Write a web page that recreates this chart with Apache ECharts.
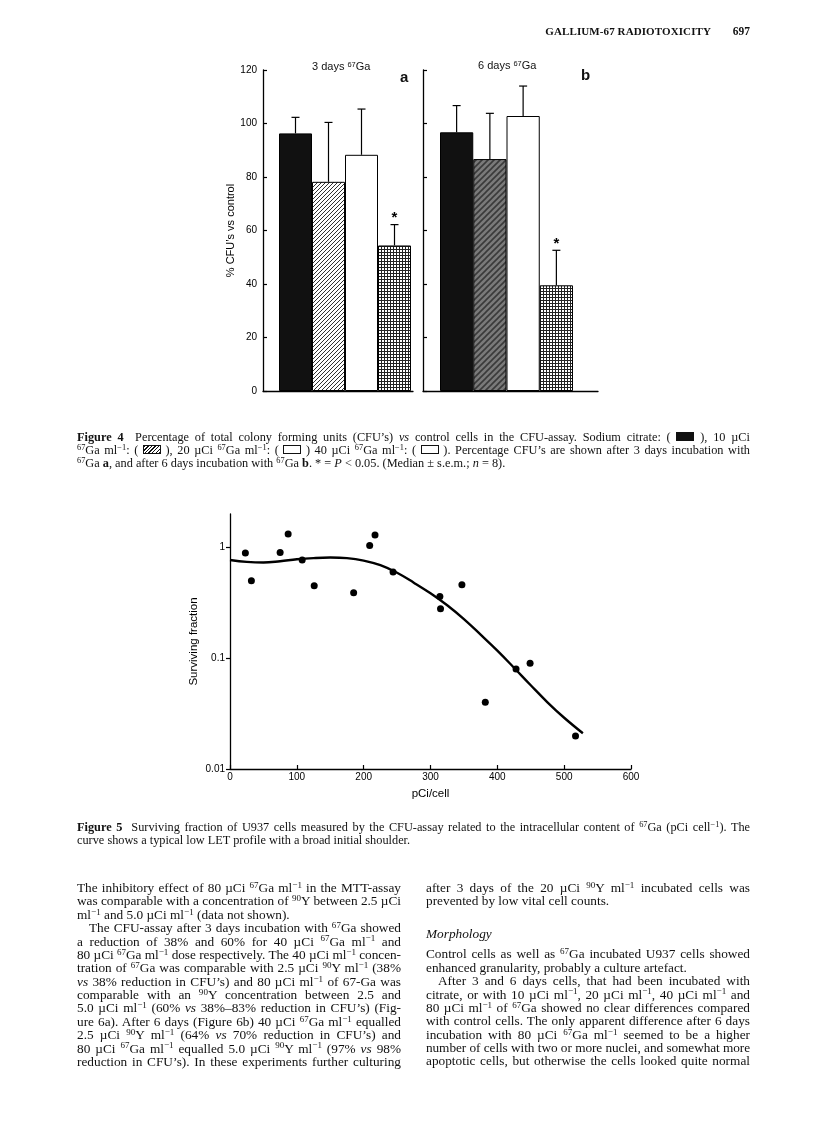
<!DOCTYPE html>
<html>
<head>
<meta charset="utf-8">
<script src="https://cdn.jsdelivr.net/npm/echarts@6/dist/echarts.min.js"></script>
<style>
html, body { margin: 0; padding: 0; background: #fff; }
#page { position: relative; width: 816px; height: 1137px; overflow: hidden; color: #111;
  font-family: "Liberation Serif", "DejaVu Serif", serif; }
#chart { position: absolute; left: 0; top: 0; width: 816px; height: 1137px; }
.t { position: absolute; white-space: nowrap; }
.sans { font-family: "Liberation Sans", Arial, sans-serif; }
.col { position: absolute; font-size: 13.3px; line-height: 13.38px; }
.col div, .cap div { white-space: nowrap; text-align: justify; text-align-last: justify; }
.col div.end, .cap div.end { text-align-last: left; }
.col div.ind { padding-left: 12px; }
.cap { position: absolute; left: 77px; width: 673px; font-size: 12.3px; line-height: 13px; }
.s { font-size: 0.68em; position: relative; top: -0.45em; line-height: 0; }
.sw { display: inline-block; width: 16px; height: 7px; border: 1px solid #111; vertical-align: 0px; }
</style>
</head>
<body>
<div id="page">
  <div id="chart"></div>

  <div class="t" style="right:105px;top:25px;font-size:11px;font-weight:bold;letter-spacing:0.1px;">GALLIUM-67 RADIOTOXICITY</div>
  <div class="t" style="right:66px;top:25px;font-size:11.5px;font-weight:bold;">697</div>

  <div class="t sans" style="left:312px;top:60px;font-size:11px;">3 days <span class="s">67</span>Ga</div>
  <div class="t sans" style="left:400px;top:68px;font-size:15px;font-weight:bold;">a</div>
  <div class="t sans" style="left:478px;top:59px;font-size:11px;">6 days <span class="s">67</span>Ga</div>
  <div class="t sans" style="left:581px;top:66px;font-size:15px;font-weight:bold;">b</div>

  <div class="cap" style="top:431px;">
    <div><b>Figure 4</b>&nbsp; Percentage of total colony forming units (CFU’s) <i>vs</i> control cells in the CFU-assay. Sodium citrate: ( <span class="sw" style="background:#111"></span> ), 10 µCi</div>
    <div><span class="s">67</span>Ga ml<span class="s">−1</span>: ( <span class="sw" style="background:repeating-linear-gradient(-45deg,#111 0 1px,#fff 1px 2.5px)"></span> ), 20 µCi <span class="s">67</span>Ga ml<span class="s">−1</span>: ( <span class="sw"></span> ) 40 µCi <span class="s">67</span>Ga ml<span class="s">−1</span>: ( <span class="sw"></span> ). Percentage CFU’s are shown after 3 days incubation with</div>
    <div class="end"><span class="s">67</span>Ga <b>a</b>, and after 6 days incubation with <span class="s">67</span>Ga <b>b</b>. * = <i>P</i> &lt; 0.05. (Median ± s.e.m.; <i>n</i> = 8).</div>
  </div>

  <div class="cap" style="top:821px;">
    <div><b>Figure 5</b>&nbsp; Surviving fraction of U937 cells measured by the CFU-assay related to the intracellular content of <span class="s">67</span>Ga (pCi cell<span class="s">−1</span>). The</div>
    <div class="end">curve shows a typical low LET profile with a broad initial shoulder.</div>
  </div>

  <div class="col" style="left:77px;top:881px;width:324px;">
    <div>The inhibitory effect of 80 µCi <span class="s">67</span>Ga ml<span class="s">−1</span> in the MTT-assay</div>
    <div>was comparable with a concentration of <span class="s">90</span>Y between 2.5 µCi</div>
    <div class="end">ml<span class="s">−1</span> and 5.0 µCi ml<span class="s">−1</span> (data not shown).</div>
    <div class="ind">The CFU-assay after 3 days incubation with <span class="s">67</span>Ga showed</div>
    <div>a reduction of 38% and 60% for 40 µCi <span class="s">67</span>Ga ml<span class="s">−1</span> and</div>
    <div>80 µCi <span class="s">67</span>Ga ml<span class="s">−1</span> dose respectively. The 40 µCi ml<span class="s">−1</span> concen-</div>
    <div>tration of <span class="s">67</span>Ga was comparable with 2.5 µCi <span class="s">90</span>Y ml<span class="s">−1</span> (38%</div>
    <div><i>vs</i> 38% reduction in CFU’s) and 80 µCi ml<span class="s">−1</span> of 67-Ga was</div>
    <div>comparable with an <span class="s">90</span>Y concentration between 2.5 and</div>
    <div>5.0 µCi ml<span class="s">−1</span> (60% <i>vs</i> 38%–83% reduction in CFU’s) (Fig-</div>
    <div>ure 6a). After 6 days (Figure 6b) 40 µCi <span class="s">67</span>Ga ml<span class="s">−1</span> equalled</div>
    <div>2.5 µCi <span class="s">90</span>Y ml<span class="s">−1</span> (64% <i>vs</i> 70% reduction in CFU’s) and</div>
    <div>80 µCi <span class="s">67</span>Ga ml<span class="s">−1</span> equalled 5.0 µCi <span class="s">90</span>Y ml<span class="s">−1</span> (97% <i>vs</i> 98%</div>
    <div>reduction in CFU’s). In these experiments further culturing</div>
  </div>

  <div class="col" style="left:426px;top:881px;width:324px;">
    <div>after 3 days of the 20 µCi <span class="s">90</span>Y ml<span class="s">−1</span> incubated cells was</div>
    <div class="end">prevented by low vital cell counts.</div>
    <div class="end" style="margin-top:19.5px;font-style:italic;">Morphology</div>
    <div style="margin-top:6.8px;">Control cells as well as <span class="s">67</span>Ga incubated U937 cells showed</div>
    <div class="end">enhanced granularity, probably a culture artefact.</div>
    <div class="ind">After 3 and 6 days cells, that had been incubated with</div>
    <div>citrate, or with 10 µCi ml<span class="s">−1</span>, 20 µCi ml<span class="s">−1</span>, 40 µCi ml<span class="s">−1</span> and</div>
    <div>80 µCi ml<span class="s">−1</span> of <span class="s">67</span>Ga showed no clear differences compared</div>
    <div>with control cells. The only apparent difference after 6 days</div>
    <div>incubation with 80 µCi <span class="s">67</span>Ga ml<span class="s">−1</span> seemed to be a higher</div>
    <div>number of cells with two or more nuclei, and somewhat more</div>
    <div>apoptotic cells, but otherwise the cells looked quite normal</div>
  </div>
</div>

<script>
// Figure 4 — % CFU's vs control (median, upper s.e.m.)
const treatments = ["Sodium citrate", "10 µCi", "20 µCi", "40 µCi"];
const median3d = [96.3, 78.2, 88.3, 54.4];
const upper3d = [102.3, 100.4, 105.4, 62.2];
const median6d = [96.7, 86.7, 102.8, 39.5];
const upper6d = [106.7, 103.8, 114.0, 52.6];
const significant = [false, false, false, true];
const pctMin = 0, pctMax = 120, pctStep = 20;

// Figure 5 — surviving fraction vs pCi/cell
const doseX = [23, 32, 75, 87, 108, 126, 185, 209, 217, 244, 314, 315, 347, 382, 428, 449, 517];
const survival = [0.89, 0.50, 0.90, 1.32, 0.77, 0.45, 0.39, 1.04, 1.29, 0.60, 0.36, 0.28, 0.46, 0.040, 0.080, 0.090, 0.0198];
const fitX = [0, 25, 50, 75, 100, 125, 150, 175, 200, 225, 250, 275, 300, 325, 350, 375, 400, 425, 450, 475, 500, 528];
const fitY = [0.77, 0.74, 0.73, 0.75, 0.78, 0.80, 0.81, 0.80, 0.76, 0.69, 0.59, 0.48, 0.385, 0.30, 0.225, 0.163, 0.117, 0.082, 0.057, 0.040, 0.029, 0.021];
const doseTicks = { min: 0, max: 600, step: 100 };

// keep long justified lines inside their column
document.querySelectorAll(".col div, .cap div").forEach((el) => {
  const over = el.scrollWidth - el.clientWidth;
  if (over > 0) el.style.letterSpacing = (-(over + 1) / el.textContent.length).toFixed(3) + "px";
});

function pattern(size, draw) {
  const c = document.createElement("canvas");
  c.width = c.height = size;
  draw(c.getContext("2d"), size);
  return { image: c, repeat: "repeat" };
}
const hatchLight = pattern(4, (g, s) => {
  g.fillStyle = "#fff"; g.fillRect(0, 0, s, s);
  g.strokeStyle = "#1a1a1a"; g.lineWidth = 0.9;
  g.beginPath();
  g.moveTo(0, s); g.lineTo(s, 0);
  g.moveTo(-1, 1); g.lineTo(1, -1);
  g.moveTo(s - 1, s + 1); g.lineTo(s + 1, s - 1);
  g.stroke();
});
const hatchDark = pattern(6, (g, s) => {
  g.fillStyle = "#7a7a7a"; g.fillRect(0, 0, s, s);
  g.strokeStyle = "#3a3a3a"; g.lineWidth = 1.6;
  g.beginPath();
  g.moveTo(0, s); g.lineTo(s, 0);
  g.moveTo(-2, 2); g.lineTo(2, -2);
  g.moveTo(s - 2, s + 2); g.lineTo(s + 2, s - 2);
  g.stroke();
});
const mesh = pattern(3, (g, s) => {
  g.fillStyle = "#fff"; g.fillRect(0, 0, s, s);
  g.fillStyle = "#222"; g.fillRect(0, 0, s, 1); g.fillRect(0, 0, 1, s);
});
const fills3d = ["#111", hatchLight, "#fff", mesh];
const fills6d = ["#111", hatchDark, "#fff", mesh];

const ink = "#000";
const axisFont = { fontFamily: "Liberation Sans, Arial, sans-serif", fontSize: 10, color: ink };

function frameX(grid) {
  return { gridIndex: grid, type: "value", min: 0, max: 1,
    axisLine: { lineStyle: { color: ink, width: 1.3 } },
    axisTick: { show: false }, axisLabel: { show: false }, splitLine: { show: false } };
}
function frameY(grid, labels) {
  return { gridIndex: grid, type: "value", min: pctMin, max: pctMax, interval: pctStep,
    axisLine: { show: true, lineStyle: { color: ink, width: 1.3 } },
    axisTick: { show: true, inside: true, length: 4, lineStyle: { color: ink, width: 1.2 } },
    axisLabel: Object.assign({ show: labels, margin: 6 }, axisFont),
    splitLine: { show: false },
    name: labels ? "% CFU’s vs control" : "", nameLocation: "middle", nameGap: 23,
    nameTextStyle: { fontFamily: "Liberation Sans, Arial, sans-serif", fontSize: 11, color: ink } };
}
function barX(grid) {
  return { gridIndex: grid, type: "category", data: treatments, show: false, boundaryGap: true };
}
function barY(grid) {
  return { gridIndex: grid, type: "value", min: pctMin, max: pctMax, show: false, splitLine: { show: false } };
}

function errItem(params, api) {
  const x = api.value(0);
  const lo = api.coord([x, api.value(1)]);
  const hi = api.coord([x, api.value(2)]);
  const st = { stroke: ink, lineWidth: 1.2 };
  const kids = [
    { type: "line", shape: { x1: lo[0], y1: lo[1], x2: hi[0], y2: hi[1] }, style: st },
    { type: "line", shape: { x1: hi[0] - 4, y1: hi[1], x2: hi[0] + 4, y2: hi[1] }, style: st }
  ];
  if (api.value(3)) {
    kids.push({ type: "text", style: { text: "*", x: hi[0], y: hi[1] + 1, align: "center",
      verticalAlign: "bottom", font: "bold 15px Liberation Sans", fill: ink } });
  }
  return { type: "group", children: kids };
}

function barSeries(axis, values, fills) {
  return { type: "bar", xAxisIndex: axis, yAxisIndex: axis, barCategoryGap: "0%",
    data: values.map((v, i) => ({ value: v, itemStyle: { color: fills[i] } })),
    itemStyle: { borderColor: ink, borderWidth: 1 }, silent: true, z: 2 };
}
function errSeries(axis, values, upper) {
  return { type: "custom", xAxisIndex: axis, yAxisIndex: axis, renderItem: errItem, z: 3, silent: true,
    data: values.map((v, i) => [i, v, upper[i], significant[i] ? 1 : 0]) };
}

const chart = echarts.init(document.getElementById("chart"), null, { renderer: "canvas" });
chart.setOption({
  animation: false,
  backgroundColor: "transparent",
  grid: [
    { left: 263, top: 70, width: 150, height: 321 },
    { left: 279, top: 70, width: 132, height: 321 },
    { left: 423, top: 70, width: 175, height: 321 },
    { left: 440, top: 70, width: 133, height: 321 },
    { left: 230, top: 514, width: 401, height: 255 }
  ],
  xAxis: [
    frameX(0), barX(1), frameX(2), barX(3),
    { gridIndex: 4, type: "value", min: doseTicks.min, max: doseTicks.max, interval: doseTicks.step,
      axisLine: { lineStyle: { color: ink, width: 1.3 } },
      axisTick: { inside: true, length: 4, lineStyle: { color: ink, width: 1.2 } },
      axisLabel: Object.assign({ margin: 3 }, axisFont),
      splitLine: { show: false },
      name: "pCi/cell", nameLocation: "middle", nameGap: 19,
      nameTextStyle: { fontFamily: "Liberation Sans, Arial, sans-serif", fontSize: 11.5, color: ink } }
  ],
  yAxis: [
    frameY(0, true), barY(1), frameY(2, false), barY(3),
    { gridIndex: 4, type: "log", logBase: 10, min: 0.01, max: 2,
      axisLine: { show: true, lineStyle: { color: ink, width: 1.3 } },
      axisTick: { show: true, length: 4, lineStyle: { color: ink, width: 1.2 } },
      axisLabel: Object.assign({ margin: 5, showMaxLabel: false }, axisFont),
      splitLine: { show: false },
      name: "Surviving fraction", nameLocation: "middle", nameGap: 30,
      nameTextStyle: { fontFamily: "Liberation Sans, Arial, sans-serif", fontSize: 11.5, color: ink } }
  ],
  series: [
    barSeries(1, median3d, fills3d),
    errSeries(1, median3d, upper3d),
    barSeries(3, median6d, fills6d),
    errSeries(3, median6d, upper6d),
    { type: "line", xAxisIndex: 4, yAxisIndex: 4, smooth: 0.4, showSymbol: false, silent: true,
      lineStyle: { color: ink, width: 2.4 },
      data: fitX.map((x, i) => [x, fitY[i]]) },
    { type: "scatter", xAxisIndex: 4, yAxisIndex: 4, symbolSize: 7, silent: true,
      itemStyle: { color: ink, opacity: 1 },
      data: doseX.map((x, i) => [x, survival[i]]) }
  ]
});
</script>
</body>
</html>
